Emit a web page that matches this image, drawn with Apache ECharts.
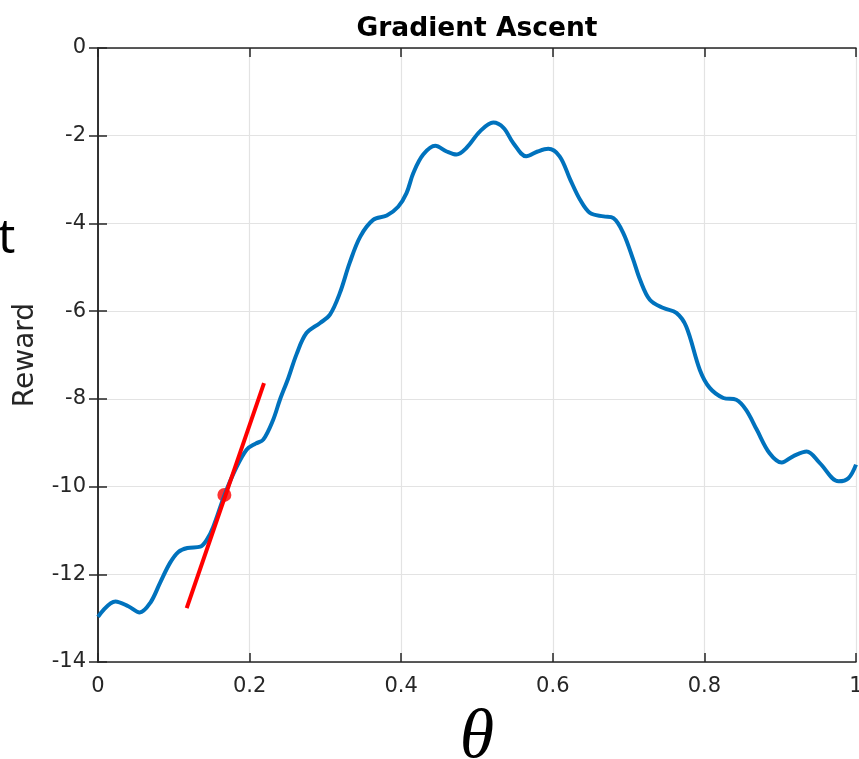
<!DOCTYPE html>
<html>
<head>
<meta charset="utf-8">
<script src="https://cdn.jsdelivr.net/npm/echarts@6/dist/echarts.min.js"></script>
<style>
  html, body { margin: 0; padding: 0; background: #fff; }
  #main { width: 859px; height: 759px; }
</style>
</head>
<body>
<div id="main"></div>
<script>
// reward curve
const thetaVals = [0.000, 0.023, 0.040, 0.055, 0.069, 0.082, 0.095, 0.106, 0.118, 0.135,
  0.144, 0.152, 0.167, 0.181, 0.196, 0.208, 0.218, 0.231, 0.240, 0.251,
  0.262, 0.275, 0.293, 0.306, 0.319, 0.332, 0.346, 0.363, 0.381, 0.396,
  0.407, 0.416, 0.429, 0.445, 0.460, 0.473, 0.486, 0.504, 0.5215, 0.535,
  0.548, 0.565, 0.580, 0.594, 0.609, 0.623, 0.636, 0.649, 0.667, 0.680,
  0.693, 0.706, 0.715, 0.728, 0.746, 0.763, 0.776, 0.794, 0.807, 0.825,
  0.842, 0.855, 0.869, 0.886, 0.902, 0.917, 0.935, 0.952, 0.977, 0.990, 1.000];
const rewardVals = [-12.97, -12.62, -12.73, -12.87, -12.65, -12.19, -11.74, -11.49, -11.40, -11.37,
  -11.20, -10.92, -10.19, -9.62, -9.16, -9.02, -8.93, -8.48, -8.02, -7.53,
  -6.98, -6.50, -6.27, -6.08, -5.59, -4.90, -4.30, -3.92, -3.82, -3.62,
  -3.31, -2.85, -2.43, -2.23, -2.36, -2.43, -2.28, -1.90, -1.70, -1.82,
  -2.17, -2.47, -2.36, -2.30, -2.47, -3.00, -3.46, -3.76, -3.84, -3.88,
  -4.22, -4.82, -5.28, -5.74, -5.93, -6.04, -6.35, -7.34, -7.75, -7.98,
  -8.02, -8.25, -8.70, -9.24, -9.45, -9.31, -9.20, -9.46, -9.88, -9.81, -9.50];

// tangent line and the point it touches
const tangentTheta = [0.117, 0.219];
const tangentReward = [-12.77, -7.64];
const pointTheta = 0.1667;
const pointReward = -10.19;

const xTicks = ['0', '0.2', '0.4', '0.6', '0.8', '1'];
const yTicks = ['0', '-2', '-4', '-6', '-8', '-10', '-12', '-14'];

const fontTxt = 'DejaVu Sans';
const axisCol = '#262626';

let myChart = echarts.init(document.getElementById('main'));

const curve = thetaVals.map((t, i) => [t, rewardVals[i]]);
const tangent = tangentTheta.map((t, i) => [t, tangentReward[i]]);

const plainAxis = {
  min: 0, max: 1, interval: 0.2,
  axisLine: { show: true, lineStyle: { color: axisCol, width: 1.5 } },
  axisTick: { show: true, inside: true, length: 9, lineStyle: { color: axisCol, width: 1.5 } },
  splitLine: { show: false },
  axisLabel: { show: false }
};

const option = {
  animation: false,
  backgroundColor: '#fff',
  title: {
    text: 'Gradient Ascent',
    left: 472, top: 11, textAlign: 'center',
    textStyle: { fontFamily: fontTxt, fontWeight: 'bold', fontSize: 26.5, color: '#000' }
  },
  graphic: [{
    type: 'text', left: -2, top: 215,
    style: { text: 't', font: '48px "Noto Sans"', fill: '#000' }
  }],
  grid: { left: 98, right: 3, top: 48, bottom: 97, containLabel: false, outerBoundsMode: 'none' },
  xAxis: [{
    type: 'value', min: 0, max: 1, interval: 0.2,
    name: 'θ', nameLocation: 'middle', nameGap: 42,
    nameTextStyle: { fontFamily: 'Liberation Serif', fontStyle: 'italic', fontSize: 70, color: '#000' },
    axisLine: { show: true, onZero: false, lineStyle: { color: axisCol, width: 1.5 } },
    axisTick: { show: true, inside: true, length: 9, lineStyle: { color: axisCol, width: 1.5 } },
    axisLabel: {
      margin: 14, fontFamily: fontTxt, fontSize: 21, color: axisCol,
      formatter: (v) => xTicks[Math.round(v / 0.2)]
    },
    splitLine: { show: true, lineStyle: { color: '#e3e3e3', width: 1.2 } }
  }, Object.assign({}, plainAxis, { type: 'value', position: 'top' })],
  yAxis: [{
    type: 'value', min: -14, max: 0, interval: 2,
    name: 'Reward', nameLocation: 'middle', nameGap: 58, nameRotate: 90,
    nameTextStyle: { fontFamily: fontTxt, fontSize: 28, color: axisCol },
    axisLine: { show: true, onZero: false, lineStyle: { color: axisCol, width: 1.5 } },
    axisTick: { show: true, inside: true, length: 9, lineStyle: { color: axisCol, width: 1.5 } },
    axisLabel: {
      margin: 12, fontFamily: fontTxt, fontSize: 21, color: axisCol,
      formatter: (v) => yTicks[Math.round(-v / 2)]
    },
    splitLine: { show: true, lineStyle: { color: '#e3e3e3', width: 1.2 } }
  }, Object.assign({}, plainAxis, { type: 'value', position: 'right', min: -14, max: 0, interval: 2 })],
  series: [
    {
      name: 'reward', type: 'line', data: curve, smooth: 0.35,
      showSymbol: false, symbol: 'none',
      lineStyle: { color: '#0072BD', width: 4 }
    },
    {
      name: 'tangent', type: 'line', data: tangent,
      showSymbol: false, symbol: 'none',
      lineStyle: { color: '#ff0000', width: 4 }
    },
    {
      name: 'point', type: 'scatter', data: [[pointTheta, pointReward]],
      symbolSize: 14, itemStyle: { color: '#ff0000' }
    }
  ]
};

myChart.setOption(option);
</script>
</body>
</html>
